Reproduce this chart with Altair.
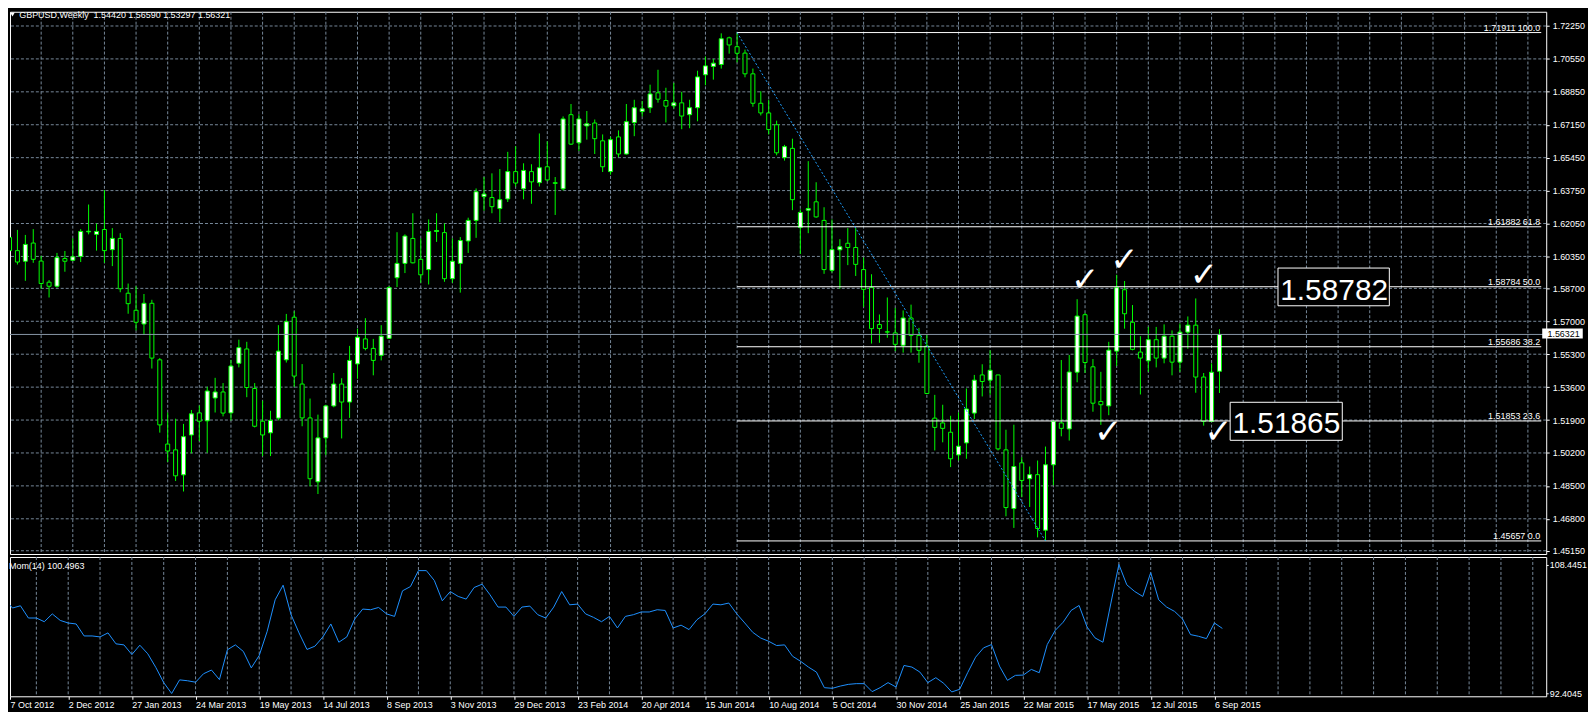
import altair as alt
import pandas as pd

# ---------------- data ----------------
dates = ["7 Oct 2012", "2 Dec 2012", "27 Jan 2013", "24 Mar 2013", "19 May 2013",
         "14 Jul 2013", "8 Sep 2013", "3 Nov 2013", "29 Dec 2013", "23 Feb 2014",
         "20 Apr 2014", "15 Jun 2014", "10 Aug 2014", "5 Oct 2014", "30 Nov 2014",
         "25 Jan 2015", "22 Mar 2015", "17 May 2015", "12 Jul 2015", "6 Sep 2015"]

opens = [
    1.6133, 1.6065, 1.6010, 1.6104, 1.6011, 1.5902, 1.5881, 1.6024, 1.6015, 1.6035,
    1.6162, 1.6149, 1.6174, 1.6070, 1.6128, 1.5845, 1.5757, 1.5686, 1.5793, 1.5501,
    1.5066, 1.5036, 1.4907, 1.5113, 1.5227, 1.5186, 1.5304, 1.5335, 1.5227, 1.5483,
    1.5557, 1.5353, 1.5184, 1.5124, 1.5200, 1.5501, 1.5721, 1.5376, 1.5201, 1.4871,
    1.5098, 1.5263, 1.5376, 1.5283, 1.5480, 1.5609, 1.5560, 1.5524, 1.5612, 1.5925,
    1.5999, 1.6128, 1.6020, 1.5967, 1.6164, 1.6158, 1.5920, 1.5999, 1.6115, 1.6221,
    1.6344, 1.6339, 1.6282, 1.6332, 1.6473, 1.6384, 1.6473, 1.6416, 1.6498, 1.6416,
    1.6384, 1.6767, 1.6622, 1.6709, 1.6724, 1.6632, 1.6473, 1.6652, 1.6564, 1.6726,
    1.6783, 1.6803, 1.6880, 1.6840, 1.6813, 1.6828, 1.6767, 1.6803, 1.6973, 1.7016,
    1.7026, 1.7164, 1.7118, 1.7085, 1.6978, 1.6826, 1.6776, 1.6715, 1.6545, 1.6593,
    1.6185, 1.6274, 1.6317, 1.6221, 1.5963, 1.6069, 1.6103, 1.6081, 1.5967, 1.5874,
    1.5683, 1.5646, 1.5640, 1.5576, 1.5717, 1.5627, 1.5572, 1.5200, 1.5175, 1.5127,
    1.5010, 1.5072, 1.5226, 1.5423, 1.5396, 1.5423, 1.5036, 1.4733, 1.4969, 1.4887,
    1.4908, 1.4621, 1.4959, 1.5175, 1.5144, 1.5437, 1.5734, 1.5465, 1.5286, 1.5263,
    1.5546, 1.5863, 1.5695, 1.5541, 1.5496, 1.5605, 1.5510, 1.5623, 1.5489, 1.5644,
    1.5680, 1.5412, 1.5183, 1.54420]

highs = [
    1.6146, 1.6172, 1.6146, 1.6176, 1.6038, 1.5913, 1.6053, 1.6063, 1.6128, 1.6176,
    1.6303, 1.6205, 1.6378, 1.6181, 1.6155, 1.5895, 1.5881, 1.5841, 1.5811, 1.5510,
    1.5229, 1.5197, 1.5170, 1.5242, 1.5265, 1.5362, 1.5408, 1.5381, 1.5501, 1.5605,
    1.5594, 1.5381, 1.5290, 1.5238, 1.5680, 1.5738, 1.5752, 1.5479, 1.5301, 1.5218,
    1.5268, 1.5433, 1.5406, 1.5573, 1.5662, 1.5716, 1.5609, 1.5680, 1.5881, 1.6160,
    1.6149, 1.6258, 1.6128, 1.6226, 1.6258, 1.6205, 1.6128, 1.6135, 1.6235, 1.6386,
    1.6445, 1.6464, 1.6486, 1.6575, 1.6604, 1.6516, 1.6511, 1.6670, 1.6629, 1.6445,
    1.6758, 1.6822, 1.6769, 1.6786, 1.6742, 1.6665, 1.6652, 1.6686, 1.6822, 1.6844,
    1.6838, 1.6922, 1.6999, 1.6906, 1.6931, 1.6885, 1.6844, 1.6994, 1.7067, 1.7055,
    1.7187, 1.7170, 1.71911, 1.7103, 1.7005, 1.6888, 1.6844, 1.6736, 1.6611, 1.6643,
    1.6278, 1.6527, 1.6418, 1.6289, 1.6226, 1.6124, 1.6181, 1.6181, 1.6029, 1.5943,
    1.5735, 1.5823, 1.5769, 1.5756, 1.5786, 1.5666, 1.5632, 1.5320, 1.5269, 1.5212,
    1.5229, 1.5353, 1.5423, 1.5478, 1.5550, 1.5423, 1.5140, 1.5166, 1.4998, 1.4950,
    1.4981, 1.5053, 1.5188, 1.5500, 1.5526, 1.5814, 1.5743, 1.5505, 1.5439, 1.5594,
    1.5940, 1.5908, 1.5784, 1.5623, 1.5671, 1.5671, 1.5684, 1.5653, 1.5689, 1.5725,
    1.5818, 1.5433, 1.5483, 1.56590]

lows = [
    1.5976, 1.5993, 1.5909, 1.6002, 1.5868, 1.5823, 1.5874, 1.5956, 1.6011, 1.6006,
    1.6149, 1.6065, 1.6002, 1.5985, 1.5850, 1.5739, 1.5653, 1.5630, 1.5456, 1.5125,
    1.4973, 1.4875, 1.4821, 1.5018, 1.5081, 1.5021, 1.5229, 1.5209, 1.5188, 1.5462,
    1.5308, 1.5152, 1.5004, 1.5004, 1.5188, 1.5487, 1.5362, 1.5158, 1.4848, 1.4808,
    1.5009, 1.5256, 1.5095, 1.5201, 1.5403, 1.5550, 1.5421, 1.5498, 1.5609, 1.5877,
    1.5949, 1.5999, 1.5899, 1.5890, 1.6110, 1.5904, 1.5899, 1.5848, 1.6053, 1.6131,
    1.6271, 1.6258, 1.6212, 1.6316, 1.6396, 1.6330, 1.6307, 1.6396, 1.6423, 1.6249,
    1.6375, 1.6611, 1.6579, 1.6638, 1.6564, 1.6471, 1.6457, 1.6548, 1.6561, 1.6656,
    1.6758, 1.6776, 1.6829, 1.6727, 1.6799, 1.6692, 1.6697, 1.6733, 1.6919, 1.6948,
    1.7005, 1.7082, 1.7037, 1.6960, 1.6808, 1.6763, 1.6665, 1.6557, 1.6530, 1.6274,
    1.6047, 1.6155, 1.6235, 1.5945, 1.5952, 1.5868, 1.5990, 1.5934, 1.5775, 1.5585,
    1.5589, 1.5615, 1.5546, 1.5538, 1.5538, 1.5486, 1.5324, 1.5033, 1.5075, 1.4947,
    1.4981, 1.4990, 1.5195, 1.5312, 1.5320, 1.5033, 1.4693, 1.4633, 1.4793, 1.4741,
    1.4584, 1.45657, 1.4853, 1.5106, 1.5084, 1.5385, 1.5433, 1.5233, 1.5165, 1.5215,
    1.5469, 1.5662, 1.5550, 1.5322, 1.5439, 1.5462, 1.5483, 1.5421, 1.5439, 1.5558,
    1.5331, 1.5161, 1.5179, 1.53297]

closes = [
    1.6065, 1.6006, 1.6097, 1.6020, 1.5895, 1.5881, 1.6029, 1.6010, 1.6033, 1.6164,
    1.6165, 1.6164, 1.6065, 1.6128, 1.5868, 1.5791, 1.5695, 1.5793, 1.5510, 1.5165,
    1.5030, 1.4902, 1.5104, 1.5222, 1.5184, 1.5340, 1.5335, 1.5226, 1.5469, 1.5564,
    1.5358, 1.5158, 1.5113, 1.5188, 1.5546, 1.5698, 1.5417, 1.5201, 1.4887, 1.5098,
    1.5263, 1.5376, 1.5283, 1.5498, 1.5618, 1.5560, 1.5498, 1.5623, 1.5874, 1.5999,
    1.6140, 1.6002, 1.5940, 1.6164, 1.6169, 1.5920, 1.6010, 1.6117, 1.6221, 1.6369,
    1.6357, 1.6292, 1.6328, 1.6473, 1.6414, 1.6479, 1.6420, 1.6493, 1.6430, 1.6412,
    1.6745, 1.6615, 1.6745, 1.6720, 1.6643, 1.6498, 1.6638, 1.6564, 1.6731, 1.6803,
    1.6797, 1.6874, 1.6847, 1.6811, 1.6828, 1.6760, 1.6803, 1.6962, 1.7019, 1.7033,
    1.7159, 1.7127, 1.7084, 1.6978, 1.6826, 1.6776, 1.6690, 1.6570, 1.6602, 1.6328,
    1.6262, 1.6282, 1.6239, 1.5967, 1.6070, 1.6085, 1.6081, 1.5994, 1.5865, 1.5662,
    1.5663, 1.5644, 1.5581, 1.5717, 1.5627, 1.5550, 1.5327, 1.5152, 1.5147, 1.4990,
    1.5055, 1.5247, 1.5396, 1.5389, 1.5447, 1.5041, 1.4738, 1.4950, 1.4878, 1.4908,
    1.4630, 1.4959, 1.5183, 1.5147, 1.5438, 1.5727, 1.5487, 1.5277, 1.5269, 1.5551,
    1.5874, 1.5739, 1.5555, 1.5510, 1.5605, 1.5510, 1.5623, 1.5489, 1.5644, 1.5680,
    1.5412, 1.5183, 1.5437, 1.56321]

momentum = [
    104.18, 103.03, 103.31, 101.79, 101.79, 101.33, 102.30, 101.49, 101.17, 101.05,
    99.56, 99.56, 99.44, 99.94, 98.58, 98.45, 97.25, 98.41, 97.34, 95.66,
    93.76, 92.4045, 94.10, 93.99, 93.81, 94.86, 95.32, 94.13, 97.84, 98.45,
    97.64, 95.59, 97.13, 100.14, 104.05, 105.87, 102.20, 99.94, 97.88, 98.29,
    99.44, 101.05, 98.78, 99.44, 101.67, 102.90, 102.82, 103.10, 102.30, 101.99,
    105.17, 105.70, 107.68, 107.68, 106.45, 103.93, 105.08, 104.47, 104.14, 105.58,
    105.99, 104.67, 103.15, 103.15, 101.99, 103.15, 103.27, 102.20, 101.79, 103.15,
    105.08, 103.43, 103.52, 102.30, 101.87, 101.33, 101.99, 100.55, 101.99, 102.20,
    102.54, 102.54, 102.82, 102.73, 100.55, 100.90, 100.35, 101.58, 102.32, 103.52,
    103.43, 103.65, 102.30, 101.17, 100.01, 99.30, 98.90, 98.37, 98.45, 97.04,
    96.42, 95.69, 95.07, 93.13, 93.05, 93.33, 93.54, 93.63, 93.63, 92.64,
    93.13, 93.76, 93.21, 95.89, 95.69, 95.07, 93.76, 94.37, 93.67, 92.60,
    92.93, 94.99, 96.92, 98.08, 98.49, 95.81, 94.04, 94.66, 94.70, 95.40,
    94.99, 98.49, 100.25, 101.27, 102.73, 103.35, 100.68, 99.32, 98.78, 103.65,
    108.4451, 105.91, 105.08, 104.47, 107.43, 104.05, 103.15, 102.61, 101.67, 99.73,
    99.52, 99.23, 101.17, 100.4963]

fib_levels = [1.71911, 1.61882, 1.58784, 1.55686, 1.51853, 1.45657]
fib_pcts = ["100.0", "61.8", "50.0", "38.2", "23.6", "0.0"]
swing_bars = [92, 131]                 # bar of swing high, bar of swing low
swing_prices = [1.71911, 1.45657]

price_ticks = [1.7225, 1.7055, 1.6885, 1.6715, 1.6545, 1.6375, 1.6205, 1.6035, 1.587,
               1.570, 1.553, 1.536, 1.519, 1.502, 1.485, 1.468, 1.4515]

box_labels = ["1.58782", "1.51865"]
check_bars = [136.03, 140.98, 138.94, 151.04, 152.88]
check_prices = [1.59204, 1.60206, 1.51327, 1.59446, 1.51353]

# ---------------- layout constants ----------------
W, H1, H2 = 1544, 545, 140
X_DOM = [0.6875, 193.6875]
Y_DOM = [1.449815, 1.7298477]
M_DOM = [92.05876, 109.37264]
FONT = "Liberation Sans"
GRID = "#778899"
LIME = "#00ff00"

xs = alt.Scale(domain=X_DOM, nice=False, zero=False)
ys = alt.Scale(domain=Y_DOM, nice=False, zero=False)
ms = alt.Scale(domain=M_DOM, nice=False, zero=False)

AX_PRICE = alt.Axis(orient="right", values=price_ticks, format=".5f", grid=False, domain=False,
                    ticks=True, tickColor="white", tickSize=3, labelPadding=3,
                    labelColor="white", labelFont=FONT, labelFontSize=9, title=None,
                    labelOverlap=False, labelFlush=False)

label_expr = "[" + ",".join(f"'{d}'" for d in dates) + "][round(datum.value / 8)]"
date_ticks = [X_DOM[0]] + list(range(8, 153, 8))
AX_DATE = alt.Axis(orient="bottom", values=date_ticks, labelExpr=label_expr, grid=False,
                   domain=False, ticks=True, tickColor="white", tickSize=3, labelPadding=1,
                   labelAlign="left", labelBaseline="top", labelColor="white", labelFont=FONT,
                   labelFontSize=9, labelOverlap=False, labelFlush=False, title=None)
AX_MOM = alt.Axis(orient="right", values=[max(momentum), min(momentum)], format=".4f",
                  grid=False, domain=False, ticks=True, tickColor="white", tickSize=2,
                  labelPadding=1, labelColor="white", labelFont=FONT, labelFontSize=9,
                  title=None, labelOverlap=False, labelFlush=False)


def X(f):
    return alt.X(f, scale=xs, axis=None)


def Y(f):
    return alt.Y(f, scale=ys, axis=AX_PRICE)


N = len(closes)
bars = pd.DataFrame({"k": list(range(N)), "open": opens, "high": highs,
                     "low": lows, "close": closes})

grid_df = pd.DataFrame({"k": list(range(4, 193, 4))})
tick_df = pd.DataFrame({"p": price_ticks})
cur_df = pd.DataFrame({"p": [closes[-1]], "label": [f"{closes[-1]:.5f}"],
                       "k1": [193.8125], "k2": [198.9375], "tk": [194.47],
                       "p1": [1.56630], "p2": [1.56116]})
fib_df = pd.DataFrame({"level": fib_levels,
                       "label": [f"{l:.5f} {p}" for l, p in zip(fib_levels, fib_pcts)],
                       "start": swing_bars[0], "end": X_DOM[1]})
trend_df = pd.DataFrame({"k": swing_bars, "p": swing_prices})
box_df = pd.DataFrame({"label": box_labels,
                       "k1": [160.40, 154.35], "k2": [174.48, 168.53],
                       "p1": [1.59749, 1.52817], "p2": [1.57801, 1.50854],
                       "tk": [167.5, 161.46], "tp": [1.58084, 1.51214]})
chk_df = pd.DataFrame({"k": check_bars, "p": check_prices})
hdr_df = pd.DataFrame({"t": ["GBPUSD,Weekly\u00a0 "
                             + " ".join(f"{v:.5f}" for v in (opens[-1], highs[-1], lows[-1], closes[-1]))]})
one = pd.DataFrame({"a": [0]})

# ---------------- main price panel ----------------
vgrid = alt.Chart(grid_df).mark_rule(color=GRID, strokeDash=[3, 2], strokeWidth=1).encode(x=X("k:Q"))

hgrid = alt.Chart(tick_df).mark_rule(color=GRID, strokeDash=[3, 2], strokeWidth=1, clip=True).encode(
    y=Y("p:Q"))

wick = alt.Chart(bars).mark_rule(color=LIME, strokeWidth=1, clip=True).encode(
    x=X("k:Q"), y=Y("low:Q"), y2="high:Q")

body = alt.Chart(bars).mark_bar(size=4, stroke=LIME, strokeWidth=1, clip=True).encode(
    x=X("k:Q"), y=Y("open:Q"), y2="close:Q",
    fill=alt.condition("datum.close >= datum.open", alt.value("#ffffff"), alt.value("#000000")))

fib = alt.Chart(fib_df).mark_rule(color="white", strokeWidth=1, clip=True).encode(
    x=X("start:Q"), x2="end:Q", y=Y("level:Q"))

fib_txt = alt.Chart(fib_df).mark_text(align="right", baseline="bottom", dx=-1, color="white",
                                      font=FONT, fontSize=9).encode(
    x=X("end:Q"), y=Y("level:Q"), text="label:N")

pline = alt.Chart(cur_df).mark_rule(color="#8796a6", strokeWidth=1, clip=True).encode(y=Y("p:Q"))

trend = alt.Chart(trend_df).mark_line(color="#1e9fff", strokeDash=[2, 2], strokeWidth=1).encode(
    x=X("k:Q"), y=Y("p:Q"))

box = alt.Chart(box_df).mark_rect(fill="black", stroke="white", strokeWidth=1).encode(
    x=X("k1:Q"), x2="k2:Q", y=Y("p1:Q"), y2="p2:Q")
box_txt = alt.Chart(box_df).mark_text(color="white", font=FONT, fontSize=30, align="center",
                                      baseline="alphabetic").encode(
    x=X("tk:Q"), y=Y("tp:Q"), text="label:N")

chk = alt.Chart(chk_df).mark_text(text="\u2713", font="DejaVu Sans", fontSize=34, fontWeight="bold",
                                  color="white", align="center", baseline="middle", dy=2).encode(
    x=X("k:Q"), y=Y("p:Q"))

hdr = alt.Chart(hdr_df).mark_text(align="left", baseline="top", color="white", font=FONT,
                                  fontSize=9).encode(
    x=alt.value(9.3), y=alt.value(-1), text="t:N")
tri = alt.Chart(one).mark_point(shape="triangle-down", filled=True, size=22, color="white",
                                strokeWidth=0, opacity=1).encode(
    x=alt.value(2.5), y=alt.value(2.8))

cp_box = alt.Chart(cur_df).mark_rect(fill="white").encode(
    x=X("k1:Q"), x2="k2:Q", y=Y("p1:Q"), y2="p2:Q")
cp_txt = alt.Chart(cur_df).mark_text(align="left", baseline="middle", color="black", font=FONT,
                                     fontSize=9).encode(
    x=X("tk:Q"), y=Y("p:Q"), text="label:N")

main = alt.layer(hgrid, vgrid, wick, body, fib, pline, trend, box, fib_txt, box_txt, chk,
                 hdr, tri, cp_box, cp_txt).properties(width=W, height=H1)

# ---------------- momentum panel ----------------
mom_df = pd.DataFrame({"k": list(range(N)), "m": momentum})

mgrid = alt.Chart(grid_df).mark_rule(color=GRID, strokeDash=[3, 2], strokeWidth=1).encode(
    x=alt.X("k:Q", scale=xs, axis=AX_DATE))
mline = alt.Chart(mom_df).mark_line(color="#1e90ff", strokeWidth=1, clip=True).encode(
    x=alt.X("k:Q", scale=xs, axis=AX_DATE),
    y=alt.Y("m:Q", scale=ms, axis=AX_MOM))
mhdr = alt.Chart(pd.DataFrame({"t": [f"Mom(14) {momentum[-1]:.4f}"]})).mark_text(
    align="left", baseline="middle", color="white", font=FONT, fontSize=9).encode(
    x=alt.value(-1), y=alt.value(8.7), text="t:N")

ind = alt.layer(mgrid, mline, mhdr).properties(width=W, height=H2)

chart = alt.vconcat(main, ind, spacing=3, bounds="flush", padding=0,
                    background="black").configure_view(stroke="white", strokeWidth=1)

chart.save("out.html", embed_options={"renderer": "svg", "actions": False})
